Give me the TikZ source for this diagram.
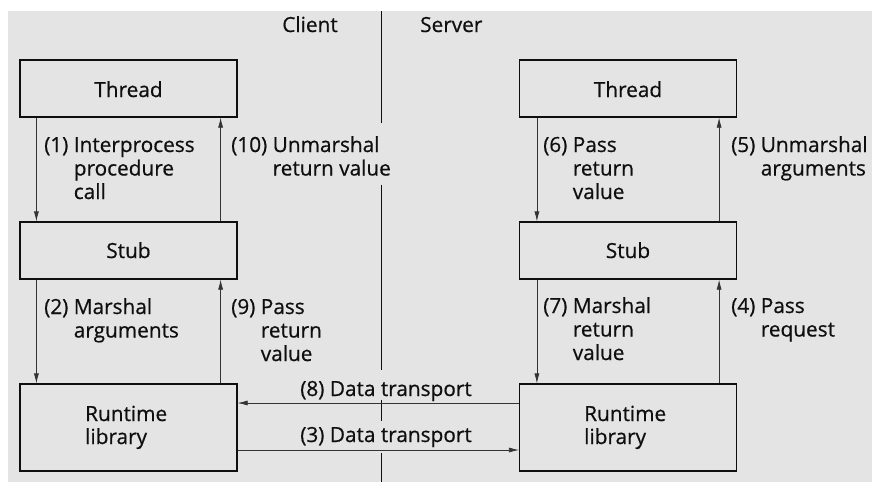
\documentclass[tikz,border=0pt]{standalone}
\usepackage{fontspec}
\setmainfont{Open Sans}[FakeBold=0.6]
\usetikzlibrary{arrows.meta}
\definecolor{bg}{RGB}{228,228,228}
\definecolor{ink}{RGB}{15,15,15}
\begin{document}
\begin{tikzpicture}[x=1pt,y=-1pt,
  font=\fontsize{20.8}{23.5}\selectfont,
  box/.style={draw=ink,line width=1.2pt,minimum width=217pt,inner sep=0pt,text=ink},
  arr/.style={draw=ink!85,line width=0.7pt,-{Latex[length=10pt,width=5pt]}},
  lbl/.style={anchor=base west,inner sep=0pt,text=ink},
  divider/.style={draw=ink,line width=0.8pt}]
\useasboundingbox (0,0) rectangle (872,482);
\fill[white] (0,0) rectangle (872,482);
\fill[bg] (8,11) rectangle (872,482);
% headings
\node[lbl,anchor=base] (client) at (310,32) {Client};
\node[lbl] (server) at (420,32) {Server};
% divider
\draw[divider] (381,11) -- (381,123);
\draw[divider] (381,185) -- (381,370);
\draw[divider] (381,400) -- (381,421);
\draw[divider] (381,453) -- (381,482);
% client boxes
\node[box,minimum height=57pt] (ct) at (128.5,88.5) {};
\node[lbl,anchor=base] at (128.5,97) {Thread};
\node[box,minimum height=57pt] (cs) at (128.5,250.5) {};
\node[lbl,anchor=base] at (128.5,258) {Stub};
\node[box,minimum height=87pt] (cr) at (128.5,427.5) {};
\node[lbl] at (85,421) {Runtime};
\node[lbl] at (85,444) {library};
% server boxes
\node[box,minimum height=57pt] (st) at (628,88.5) {};
\node[lbl,anchor=base] at (628,97) {Thread};
\node[box,minimum height=57pt] (ss) at (628,250.5) {};
\node[lbl,anchor=base] at (628,258) {Stub};
\node[box,minimum height=87pt] (sr) at (628,427.5) {};
\node[lbl] at (584,421) {Runtime};
\node[lbl] at (584,444) {library};
% client arrows
\draw[arr] ([xshift=17pt]ct.south west) -- ([xshift=17pt]cs.north west);
\draw[arr] ([xshift=-17pt]cs.north east) -- ([xshift=-17pt]ct.south east);
\draw[arr] ([xshift=17pt]cs.south west) -- ([xshift=17pt]cr.north west);
\draw[arr] ([xshift=-17pt]cr.north east) -- ([xshift=-17pt]cs.south east);
% server arrows
\draw[arr] ([xshift=18pt]st.south west) -- ([xshift=18pt]ss.north west);
\draw[arr] ([xshift=-18pt]ss.north east) -- ([xshift=-18pt]st.south east);
\draw[arr] ([xshift=18pt]ss.south west) -- ([xshift=18pt]sr.north west);
\draw[arr] ([xshift=-18pt]sr.north east) -- ([xshift=-18pt]ss.south east);
% transport arrows
\draw[arr] (sr.west |- 0,403) -- (cr.east |- 0,403);
\draw[arr] (cr.east |- 0,450) -- (sr.west |- 0,450);
% labels
\node[lbl] at (44,152) {\begin{tabular}[t]{@{}l@{\ }l@{}}(1)&Interprocess\\&procedure\\&call\end{tabular}};
\node[lbl] at (231,152) {\begin{tabular}[t]{@{}l@{\ }l@{}}(10)&Unmarshal\\&return value\end{tabular}};
\node[lbl] at (543,152) {\begin{tabular}[t]{@{}l@{\ }l@{}}(6)&Pass\\&return\\&value\end{tabular}};
\node[lbl] at (731,152) {\begin{tabular}[t]{@{}l@{\ }l@{}}(5)&Unmarshal\\&arguments\end{tabular}};
\node[lbl] at (44,314) {\begin{tabular}[t]{@{}l@{\ }l@{}}(2)&Marshal\\&arguments\end{tabular}};
\node[lbl] at (231,314) {\begin{tabular}[t]{@{}l@{\ }l@{}}(9)&Pass\\&return\\&value\end{tabular}};
\node[lbl] at (543,313) {\begin{tabular}[t]{@{}l@{\ }l@{}}(7)&Marshal\\&return\\&value\end{tabular}};
\node[lbl] at (731,313) {\begin{tabular}[t]{@{}l@{\ }l@{}}(4)&Pass\\&request\end{tabular}};
\node[lbl,anchor=base] at (386,396) {(8) Data transport};
\node[lbl,anchor=base] at (386,442) {(3) Data transport};
\end{tikzpicture}
\end{document}
